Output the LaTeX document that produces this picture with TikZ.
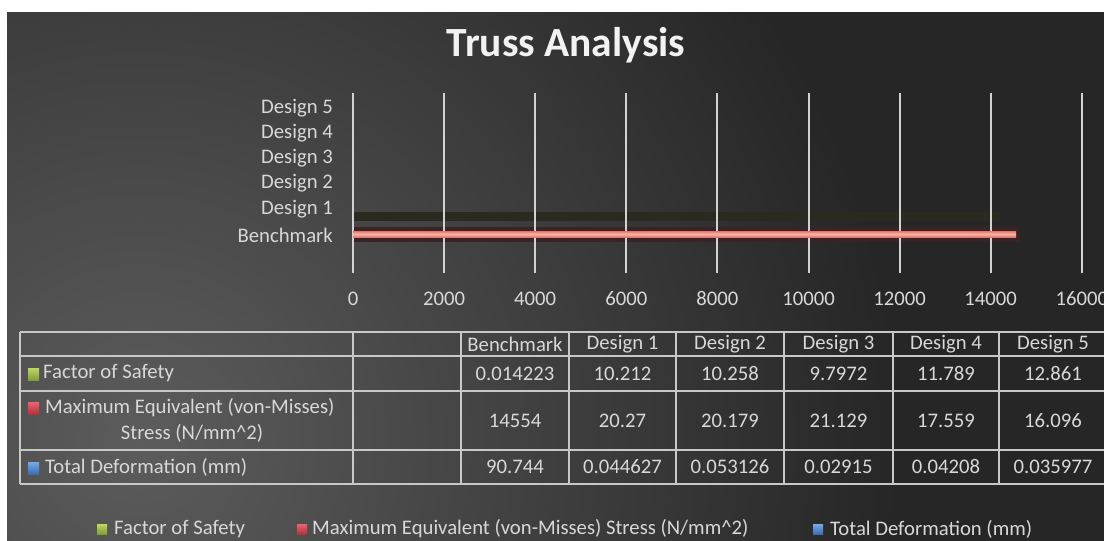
\documentclass[tikz,border=0pt]{standalone}
\usepackage{fontspec}
\setmainfont{Carlito}
\definecolor{bgc}{RGB}{38,38,38}
\definecolor{glowc}{RGB}{92,92,92}
\definecolor{lbl}{RGB}{216,216,216}
\definecolor{ttl}{RGB}{242,242,242}
\definecolor{gridc}{RGB}{210,210,210}
\definecolor{tabc}{RGB}{200,200,200}
\definecolor{barc}{RGB}{226,118,110}
\definecolor{barl}{RGB}{248,180,165}
\definecolor{bargl}{RGB}{56,36,36}
\definecolor{oliveband}{RGB}{42,42,33}
\definecolor{gmk}{RGB}{190,214,100}
\definecolor{gmkd}{RGB}{130,160,50}
\definecolor{rmk}{RGB}{232,100,110}
\definecolor{rmkd}{RGB}{180,50,60}
\definecolor{bmk}{RGB}{120,170,230}
\definecolor{bmkd}{RGB}{60,110,180}
\begin{document}
\begin{tikzpicture}[x=1pt,y=-1pt,
  txt/.style={text=lbl, font=\fontsize{20.7}{23}\selectfont, inner sep=0pt},
  gridline/.style={draw=gridc, line width=2pt},
  tline/.style={draw=tabc, line width=1.4pt},
  gmark/.style={top color=gmk, bottom color=gmkd, draw=none},
  rmark/.style={top color=rmk, bottom color=rmkd, draw=none},
  bmark/.style={top color=bmk, bottom color=bmkd, draw=none}]
\useasboundingbox (0,0) rectangle (1104,541);
\fill[white] (0,0) rectangle (1104,541);
\begin{scope}
\clip (7,12) rectangle (1104,541);
\fill[bgc] (7,12) rectangle (1104,541);
\shade[inner color=glowc, outer color=bgc] (140,440) circle[radius=760pt];
\end{scope}
% title
\node[text=ttl, font=\bfseries\fontsize{41.5}{46}\selectfont, inner sep=0pt] (title) at (566,45) {Truss Analysis};
% category labels
\node[txt, anchor=east] (c5) at (333,108) {Design 5};
\node[txt, anchor=east] (c4) at (333,133) {Design 4};
\node[txt, anchor=east] (c3) at (333,158) {Design 3};
\node[txt, anchor=east] (c2) at (333,183) {Design 2};
\node[txt, anchor=east] (c1) at (333,209) {Design 1};
\node[txt, anchor=east] (c0) at (333,235) {Benchmark};
% faint band and bar glow
\fill[oliveband] (353,212) rectangle (1000,221);
\fill[bargl] (353,227) rectangle (1020,242);
% gridlines
\foreach \i/\v in {0/0,1/2000,2/4000,3/6000,4/8000,5/10000,6/12000,7/14000,8/16000}{
  \pgfmathsetmacro{\gx}{353+91.1*\i}
  \draw[gridline] (\gx,93) -- (\gx,273);
  \node[txt] (t\i) at (\gx,299) {\v};
}
% benchmark bar
\shade[top color=barc, bottom color=barc, middle color=barl] (353,231) rectangle (1016,237);
% table
\foreach \yy in {332,356,391,450,484}{
  \draw[tline] (20,\yy) -- (1104,\yy);
}
\foreach \xx in {20,353,461,569,676,784,893,999}{
  \draw[tline] (\xx,332) -- (\xx,484);
}
% headers
\node[txt] (hB) at (515,344) {Benchmark};
\node[txt] (h1) at (622.5,344) {Design 1};
\node[txt] (h2) at (730,344) {Design 2};
\node[txt] (h3) at (838.5,344) {Design 3};
\node[txt] (h4) at (946,344) {Design 4};
\node[txt] (h5) at (1053,344) {Design 5};
% row labels
\fill[gmark] (28,368) rectangle (39,380);
\node[txt, anchor=west] (rF) at (43,373.5) {Factor of Safety};
\fill[rmark] (28,402) rectangle (39,414);
\node[txt, anchor=west] (rM) at (45,408) {Maximum Equivalent (von-Misses)};
\node[txt] (rS) at (192,433) {Stress (N/mm\^{}2)};
\fill[bmark] (28,462) rectangle (39,474);
\node[txt, anchor=west] (rT) at (45,467) {Total Deformation (mm)};
% values
\foreach \cx/\a/\b/\c [count=\k] in {515/0.014223/14554/90.744, 622.5/10.212/20.27/0.044627, 730/10.258/20.179/0.053126, 838.5/9.7972/21.129/0.02915, 946/11.789/17.559/0.04208, 1053/12.861/16.096/0.035977}{
  \node[txt] (vF\k) at (\cx,373.5) {\a};
  \node[txt] (vM\k) at (\cx,420.5) {\b};
  \node[txt] (vT\k) at (\cx,467) {\c};
}
% legend
\fill[gmark] (97,524) rectangle (107,534);
\node[txt, anchor=west] (lF) at (114,529) {Factor of Safety};
\fill[rmark] (297,524) rectangle (307,534);
\node[txt, anchor=west] (lM) at (312,529) {Maximum Equivalent (von-Misses) Stress (N/mm\^{}2)};
\fill[bmark] (813,524) rectangle (823,534);
\node[txt, anchor=west] (lT) at (830,529) {Total Deformation (mm)};
\end{tikzpicture}
\end{document}
